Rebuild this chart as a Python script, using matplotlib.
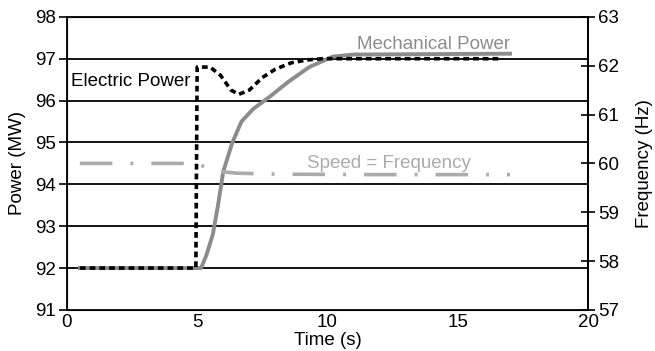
import matplotlib

matplotlib.use("Agg")
import matplotlib.pyplot as plt

plt.rcParams["font.family"] = ["Liberation Sans", "DejaVu Sans"]
plt.rcParams["font.size"] = 13.5

# electric power (MW), black dotted
elec_t = [0.5, 4.95, 5.0, 5.5, 5.9, 6.3, 6.6, 7.0, 7.5, 8.0, 8.6, 9.2, 9.8, 10.5, 16.7]
elec_p = [92.0, 92.0, 96.8, 96.8, 96.6, 96.25, 96.15, 96.25, 96.55, 96.75, 96.9, 96.97, 97.0, 97.0, 97.0]

# mechanical power (MW), grey solid
mech_t = [0.5, 5.15, 5.35, 5.6, 5.8, 6.0, 6.35, 6.7, 7.15, 7.8, 8.5, 9.3, 10.2, 11.0, 17.0]
mech_p = [92.0, 92.0, 92.3, 92.8, 93.5, 94.3, 95.0, 95.5, 95.8, 96.1, 96.45, 96.8, 97.05, 97.1, 97.12]

# speed = frequency (Hz), light grey dash-dot
freq_t = [0.5, 5.0, 5.2, 5.6, 6.5, 8.0, 12.0, 17.0]
freq_hz = [60.0, 60.0, 59.95, 59.85, 59.8, 59.78, 59.77, 59.77]

fig, ax = plt.subplots(figsize=(6.55, 3.51), dpi=100)
fig.subplots_adjust(left=0.102, right=0.898, top=0.952, bottom=0.117)

for y in [92, 93, 94, 95, 96, 97]:
    ax.axhline(y, color="black", linewidth=1.3, zorder=1)

ax.plot(mech_t, mech_p, color="#8c8c8c", linewidth=2.8, zorder=3)
ax.plot(elec_t, elec_p, color="black", linewidth=2.6, linestyle=(0, (1.6, 1.1)), zorder=4)

ax.set_xlim(0, 20)
ax.set_ylim(91, 98)
ax.set_xticks([0, 5, 10, 15, 20])
ax.set_yticks(range(91, 99))
ax.tick_params(axis="x", length=0, pad=3)
ax.tick_params(axis="y", direction="out", length=6, width=1.2, pad=2)
ax.set_xlabel("Time (s)", labelpad=1)
ax.set_ylabel("Power (MW)", labelpad=6)
for s in ax.spines.values():
    s.set_linewidth(1.3)

ax2 = ax.twinx()
ax2.plot(freq_t, freq_hz, color="#ababab", linewidth=2.6,
         linestyle=(0, (9, 5, 0.8, 5)), zorder=2)
ax2.set_ylim(57, 63)
ax2.set_yticks(range(57, 64))
ax2.tick_params(axis="y", direction="inout", length=10, width=1.2, pad=2)
ax2.set_ylabel("Frequency (Hz)", labelpad=12)
ax2.spines["right"].set_linewidth(1.3)

ax.text(4.75, 96.45, "Electric Power", ha="right", va="center", color="black")
ax.text(17.0, 97.35, "Mechanical Power", ha="right", va="center", color="#8c8c8c")
ax2.text(15.5, 60.0, "Speed = Frequency", ha="right", va="center", color="#ababab")

fig.savefig("out.png", dpi=100)
